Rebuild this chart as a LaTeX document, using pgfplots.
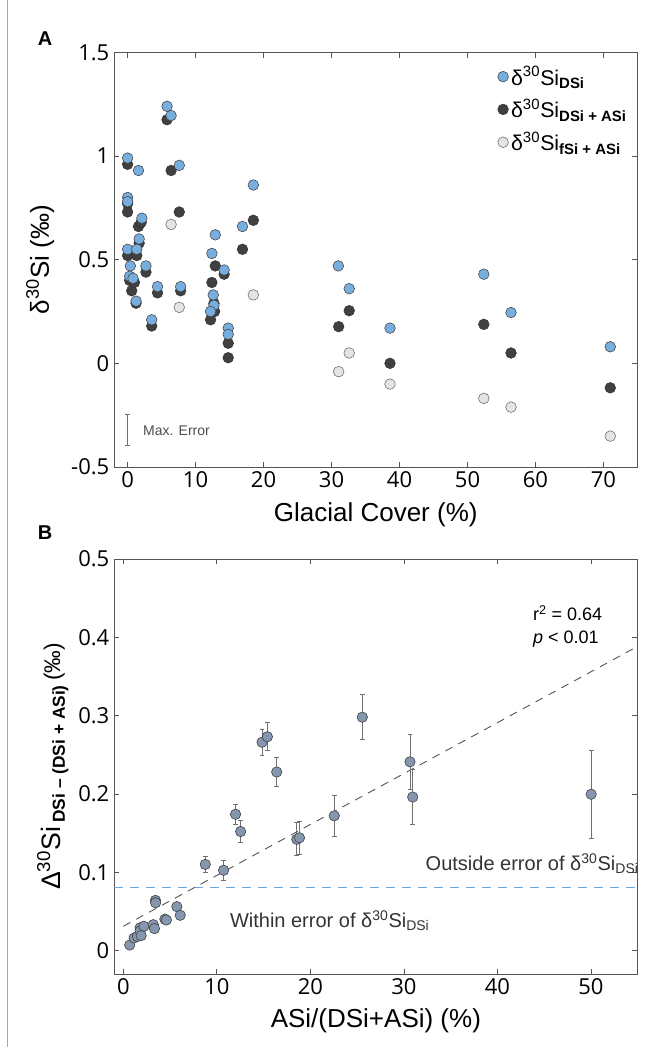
\documentclass[border=0pt]{standalone}
\usepackage{fontspec}
\setmainfont{Liberation Sans}
\newfontfamily\tickfont{Open Sans}
\usepackage{pgfplots}
\pgfplotsset{compat=1.18}
\usetikzlibrary{arrows.meta}

\definecolor{dsi}{HTML}{78AEDD}
\definecolor{dsiasi}{HTML}{404040}
\definecolor{fsiasi}{HTML}{E3E5E2}
\definecolor{pts}{HTML}{8497AE}
\definecolor{axgray}{HTML}{555555}
\definecolor{errgray}{HTML}{707070}
\definecolor{limblue}{HTML}{6CA3E4}

\pgfplotsset{
  base/.style={
    scale only axis,
    axis line style={axgray, line width=0.7pt},
    major tick style={axgray, line width=0.6pt},
    major tick length=4pt,
    tick align=inside,
    /pgf/number format/assume math mode=true,
    tick label style={font=\tickfont\fontsize{16.5}{19}\selectfont},
    label style={font=\fontsize{19.5}{23}\selectfont},
  },
  sdsi/.style={only marks, mark=*, mark size=4pt, mark options={fill=dsi, draw=black!75, line width=0.4pt}},
  sdsiasi/.style={only marks, mark=*, mark size=4pt, mark options={fill=dsiasi, draw=black!80, line width=0.4pt}},
  sfsi/.style={only marks, mark=*, mark size=4pt, mark options={fill=fsiasi, draw=black!60, line width=0.4pt}},
}

\begin{document}
\begin{tikzpicture}
\path[use as bounding box] (0,0) rectangle (491.25pt,-785.25pt);
\draw[gray!70, line width=0.8pt] (5.4pt,0) -- (5.4pt,-785.25pt);
\node[font=\bfseries\fontsize{15}{17}\selectfont] at (33.75pt,-28.7pt) {A};
\node[font=\bfseries\fontsize{15}{17}\selectfont] at (33.75pt,-399.75pt) {B};

% ---------- panel A ----------
\begin{axis}[base,
  at={(85.5pt,-350.25pt)}, anchor=south west,
  width=392.6pt, height=311pt,
  xmin=-2, xmax=75, ymin=-0.5, ymax=1.5,
  xtick={0,10,...,70}, ytick={-0.5,0,0.5,1,1.5},
  xlabel={Glacial Cover (\%)},
  ylabel={δ\textsuperscript{30}Si (‰)},
  xlabel style={at={(axis description cs:0.5,-0.116)}, anchor=center},
  ylabel style={at={(axis description cs:-0.141,0.5)}, anchor=center},
  legend style={draw=none, fill=none, at={(0.725,0.98)}, anchor=north west,
    row sep=5pt, font=\fontsize{16}{19}\selectfont},
  legend cell align=left,
]
\addlegendimage{sdsi}
\addlegendentry{δ\textsuperscript{30}Si\textsubscript{\textbf{DSi}}}
\addlegendimage{sdsiasi}
\addlegendentry{δ\textsuperscript{30}Si\textsubscript{\textbf{DSi + ASi}}}
\addlegendimage{sfsi}
\addlegendentry{δ\textsuperscript{30}Si\textsubscript{\textbf{fSi + ASi}}}

% DSi + ASi
\addplot[sdsiasi, forget plot] coordinates {
(0,0.96) (0,0.77) (0,0.73) (1.6,0.66) (2.0,0.68) (0,0.52) (0.3,0.40) (0.6,0.35)
(1.25,0.29) (1.35,0.52) (1.7,0.58) (2.7,0.44) (1.0,0.39) (3.55,0.18) (4.4,0.34)
(5.8,1.175) (6.4,0.93) (7.6,0.73) (7.8,0.35) (12.9,0.47) (12.4,0.39) (12.8,0.25)
(12.2,0.21) (12.7,0.29) (14.2,0.43) (14.8,0.097) (14.8,0.027) (16.9,0.55) (18.5,0.69)
(31.05,0.177) (32.6,0.254) (38.6,0.0) (52.4,0.188) (56.4,0.05) (71,-0.118)};
% fSi + ASi
\addplot[sfsi, forget plot] coordinates {
(6.4,0.67) (7.6,0.27) (18.5,0.33) (31.05,-0.04) (32.6,0.05) (38.6,-0.10)
(52.4,-0.169) (56.4,-0.211) (71,-0.351)};
% DSi
\addplot[sdsi, forget plot] coordinates {
(0,0.99) (0,0.80) (0,0.78) (1.6,0.93) (0,0.55) (0.4,0.47) (0.3,0.42) (0.8,0.41)
(1.25,0.30) (1.35,0.55) (1.7,0.60) (2.1,0.70) (2.7,0.47) (3.55,0.21) (4.4,0.37)
(5.8,1.24) (6.4,1.195) (7.6,0.955) (7.8,0.37) (12.4,0.53) (12.9,0.62) (12.6,0.33)
(12.7,0.28) (12.2,0.25) (14.2,0.45) (14.8,0.17) (14.8,0.14) (16.9,0.66) (18.5,0.86)
(31,0.47) (32.6,0.36) (38.6,0.17) (52.4,0.43) (56.4,0.245) (71,0.08)};

\draw[errgray, line width=0.6pt, {Bar[width=4pt]}-{Bar[width=4pt]}] (axis cs:0,-0.242) -- (axis cs:0,-0.40);
\node[anchor=west, text=black!70, font=\fontsize{10.5}{12}\selectfont] at (axis cs:1.6,-0.325) {Max. Error};
\end{axis}

% ---------- panel B ----------
\begin{axis}[base,
  at={(85.5pt,-730.5pt)}, anchor=south west,
  width=392.8pt, height=311.25pt,
  xmin=-1, xmax=55, ymin=-0.03, ymax=0.5,
  xtick={0,10,...,50}, ytick={0,0.1,...,0.5},
  xlabel={ASi/(DSi+ASi) (\%)},
  ylabel={{\fontsize{20}{23}\selectfont Δ\textsuperscript{30}Si}\,\raisebox{-0.35ex}{\fontsize{13}{15}\selectfont\bfseries DSi – (DSi + ASi)}\,{\fontsize{17}{20}\selectfont(‰)}},
  xlabel style={at={(axis description cs:0.5,-0.113)}, anchor=center},
  ylabel style={at={(axis description cs:-0.117,0.5)}, anchor=center},
]
\addplot[no marks, color=limblue, line width=0.9pt, dash pattern=on 7pt off 5pt] coordinates {(-1,0.08) (55,0.08)};
\addplot[no marks, color=black!65, line width=0.7pt, dash pattern=on 6pt off 5pt] coordinates {(0,0.031) (55,0.3885)};
\addplot[only marks, mark=*, mark size=3.9pt,
  mark options={fill=pts, draw=black!75, line width=0.45pt},
  error bars/.cd, y dir=both, y explicit,
  error bar style={errgray, line width=0.6pt},
  error mark options={rotate=90, mark size=1.8pt, errgray, line width=0.6pt}]
  table[x=x, y=y, y error=ey] {
x y ey
0.68 0.007 0
1.15 0.016 0
1.5 0.018 0
1.79 0.029 0
1.8 0.025 0
1.9 0.019 0
2.2 0.031 0
3.2 0.033 0
3.33 0.028 0
3.43 0.064 0
3.45 0.061 0
4.44 0.040 0
4.6 0.039 0
5.72 0.056 0
6.08 0.045 0
8.76 0.110 0.010
10.72 0.1025 0.0125
12.0 0.174 0.013
12.54 0.152 0.014
14.83 0.266 0.017
15.4 0.273 0.018
16.4 0.228 0.019
18.54 0.142 0.021
18.83 0.144 0.021
22.55 0.172 0.026
25.55 0.298 0.029
30.65 0.241 0.035
30.94 0.196 0.035
50.02 0.1996 0.056
};
\node[anchor=north west, align=left, font=\fontsize{13.5}{17}\selectfont] at (axis cs:43.3,0.447)
  {r\textsuperscript{2} = 0.64\\\textit{p} < 0.01};
\node[anchor=east, text=black!80, font=\fontsize{15}{18}\selectfont] at (axis cs:55.6,0.111)
  {Outside error of δ\textsuperscript{30}Si\textsubscript{DSi}};
\node[anchor=west, text=black!80, font=\fontsize{15}{18}\selectfont] at (axis cs:10.9,0.038)
  {Within error of δ\textsuperscript{30}Si\textsubscript{DSi}};
\end{axis}
\end{tikzpicture}
\end{document}
